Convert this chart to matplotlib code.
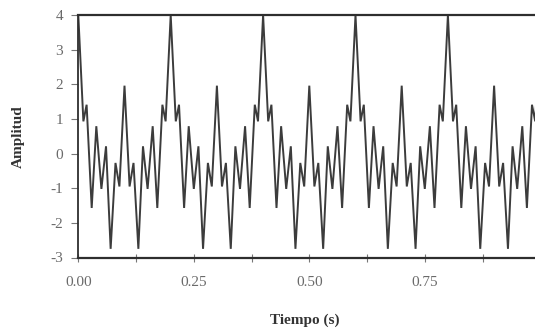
import matplotlib
matplotlib.use("Agg")
import matplotlib.pyplot as plt
from matplotlib.ticker import FixedLocator, MultipleLocator


# one cycle of the waveform, read at its turning points (time in s, amplitude)
CYCLE_TIME = [0.000, 0.011, 0.018, 0.029, 0.039, 0.050, 0.060, 0.070, 0.0805, 0.089,
              0.100, 0.111, 0.1195, 0.130, 0.140, 0.150, 0.161, 0.171, 0.182, 0.189]
CYCLE_AMP = [4.00, 0.93, 1.41, -1.57, 0.79, -1.02, 0.21, -2.75, -0.27, -0.95,
             1.96, -0.95, -0.27, -2.75, 0.21, -1.02, 0.79, -1.57, 1.41, 0.93]
CYCLE_STARTS = [0.0, 0.2, 0.4, 0.6, 0.8]
LAST_TIME = 1.0
LAST_AMP = 4.0

X_TICKS = [0.00, 0.25, 0.50, 0.75]
X_TICK_LABELS = ["0.00", "0.25", "0.50", "0.75"]
Y_TICKS = [-3, -2, -1, 0, 1, 2, 3, 4]

LINE_COLOR = "#3c3c3c"
FRAME_COLOR = "#2e2e2e"
TICK_TEXT = "#6a6a6a"


def build_series():
    t, amp = [], []
    for start in CYCLE_STARTS:
        for dt, a in zip(CYCLE_TIME, CYCLE_AMP):
            t.append(start + dt)
            amp.append(a)
    t.append(LAST_TIME)
    amp.append(LAST_AMP)
    return t, amp


def main():
    plt.rcParams["font.family"] = ["Liberation Serif", "DejaVu Serif"]
    plt.rcParams["axes.unicode_minus"] = False

    t, amp = build_series()

    fig = plt.figure(figsize=(5.35, 3.35), dpi=100)
    # plot area runs a little past the right edge, like the cropped scan
    ax = fig.add_axes([78.3 / 535, 77.5 / 335, 462 / 535, 242.5 / 335])

    ax.plot(t, amp, color=LINE_COLOR, linewidth=1.4, solid_joinstyle="miter")

    ax.set_xlim(0, 1.0)
    ax.set_ylim(-3, 4)

    ax.xaxis.set_major_locator(FixedLocator(X_TICKS))
    ax.set_xticklabels(X_TICK_LABELS)
    ax.xaxis.set_minor_locator(MultipleLocator(0.125))
    ax.set_yticks(Y_TICKS)

    ax.tick_params(axis="x", which="both", direction="inout", length=6, width=0.8,
                   color="#777777", labelsize=11, labelcolor=TICK_TEXT, pad=10)
    ax.tick_params(axis="y", direction="out", length=5, width=0.8, color="#777777",
                   labelsize=11, labelcolor=TICK_TEXT, pad=6)

    for side in ["top", "bottom"]:
        ax.spines[side].set_linewidth(1.6)
        ax.spines[side].set_color(FRAME_COLOR)
    ax.spines["left"].set_linewidth(1.3)
    ax.spines["left"].set_color(FRAME_COLOR)
    ax.spines["right"].set_visible(False)

    ax.set_xlabel("Tiempo (s)", fontsize=11, fontweight="bold", color="#333333",
                  va="center")
    ax.xaxis.set_label_coords(0.49, -0.258)
    ax.set_ylabel("Amplitud", fontsize=11, fontweight="bold", color="#333333",
                  va="center")
    ax.yaxis.set_label_coords(-0.1305, 0.5)

    fig.savefig("out.png", dpi=100)


if __name__ == "__main__":
    main()
